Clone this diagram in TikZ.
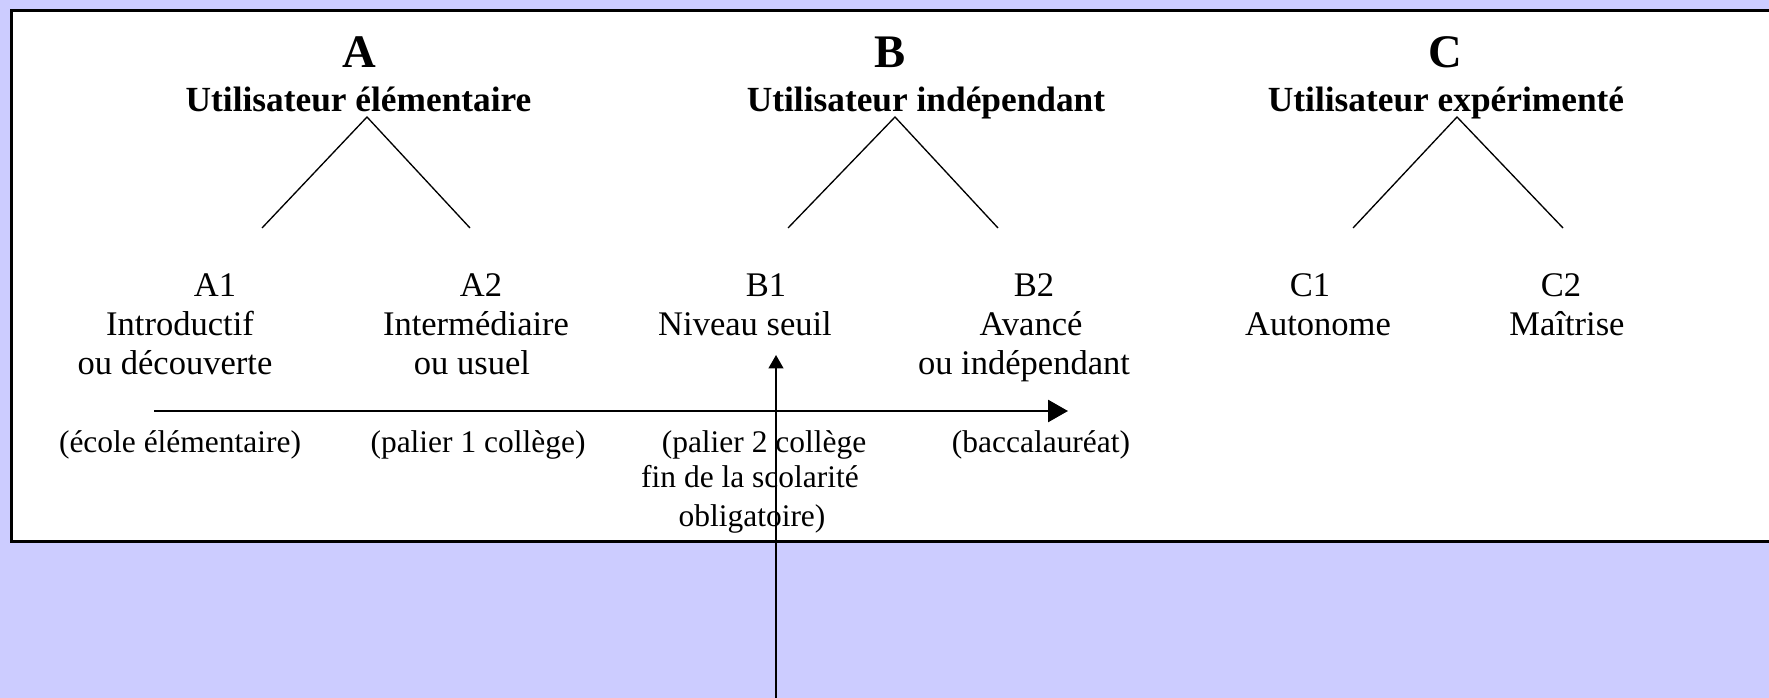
\documentclass[tikz,border=0pt]{standalone}
\usepackage{fontspec}
\setmainfont{Liberation Serif}
\usetikzlibrary{arrows.meta}
\definecolor{lav}{HTML}{CCCCFF}
\tikzset{
  lvl/.style={font=\fontsize{25.9}{30}\selectfont, inner sep=0pt, anchor=base},
  paren/.style={font=\fontsize{23.6}{28}\selectfont, inner sep=0pt, anchor=base},
  hdr/.style={font=\bfseries\fontsize{26.5}{30}\selectfont, inner sep=0pt, anchor=base},
  letter/.style={font=\bfseries\fontsize{35}{40}\selectfont, inner sep=0pt, anchor=base},
  branch/.style={line width=1pt},
  frame/.style={line width=2.25pt},
  timeline/.style={line width=2pt, -{Triangle[length=15pt,width=16.5pt]}},
  pointer/.style={line width=1.5pt, -{Triangle[length=10pt,width=11pt]}},
}
\begin{document}
\begin{tikzpicture}[x=0.75pt, y=-0.75pt]
\useasboundingbox (0,0) rectangle (1769,698);
\fill[lav] (0,0) rectangle (1769,698);
% frame
\fill[white] (11.5,11) rectangle (1769,541);
\draw[frame] (1769,11) -- (11.5,11) -- (11.5,541) -- (1769,541);

% headers
\node[letter] (A) at (359,68) {A};
\node[hdr] (Ah) at (358.5,112) {Utilisateur élémentaire};
\node[letter] (B) at (890,68) {B};
\node[hdr] (Bh) at (926,112) {Utilisateur indépendant};
\node[letter] (C) at (1445,68) {C};
\node[hdr] (Ch) at (1446,112) {Utilisateur expérimenté};

% branches
\coordinate (aTop) at (367,117);
\coordinate (aL) at (262,228);
\coordinate (aR) at (470,228);
\coordinate (bTop) at (895,117);
\coordinate (bL) at (788,228);
\coordinate (bR) at (998,228);
\coordinate (cTop) at (1457,117);
\coordinate (cL) at (1353,228);
\coordinate (cR) at (1563,228);
\draw[branch] (aL) -- (aTop) -- (aR);
\draw[branch] (bL) -- (bTop) -- (bR);
\draw[branch] (cL) -- (cTop) -- (cR);

% levels
\node[lvl] (A1) at (215,297) {A1};
\node[lvl] (A1a) at (180,335) {Introductif};
\node[lvl] (A1b) at (175,374) {ou découverte};
\node[lvl] (A2) at (481,297) {A2};
\node[lvl] (A2a) at (476,335) {Intermédiaire};
\node[lvl] (A2b) at (472,374) {ou usuel};
\node[lvl] (B1) at (766,297) {B1};
\node[lvl] (B1a) at (745,335) {Niveau seuil};
\node[lvl] (B2) at (1034,297) {B2};
\node[lvl] (B2a) at (1031,335) {Avancé};
\node[lvl] (B2b) at (1024,374) {ou indépendant};
\node[lvl] (C1) at (1310,297) {C1};
\node[lvl] (C1a) at (1318,335) {Autonome};
\node[lvl] (C2) at (1561,297) {C2};
\node[lvl] (C2a) at (1567,335) {Maîtrise};

% school stages
\node[paren] (pA1) at (180,452) {(école élémentaire)};
\node[paren] (pA2) at (478,452) {(palier 1 collège)};
\node[paren] (pB1a) at (764,452) {(palier 2 collège};
\node[paren] (pB1b) at (750,487) {fin de la scolarité};
\node[paren] (pB1c) at (752,526) {obligatoire)};
\node[paren] (pB2) at (1041,452) {(baccalauréat)};

% arrows
\coordinate (tlStart) at (154,411);
\coordinate (tlEnd) at (1068,411);
\draw[timeline] (tlStart) -- (tlEnd);
\coordinate (vStart) at (776,698);
\coordinate (vEnd) at (776,355);
\draw[pointer] (vStart) -- (vEnd);
\end{tikzpicture}
\end{document}
